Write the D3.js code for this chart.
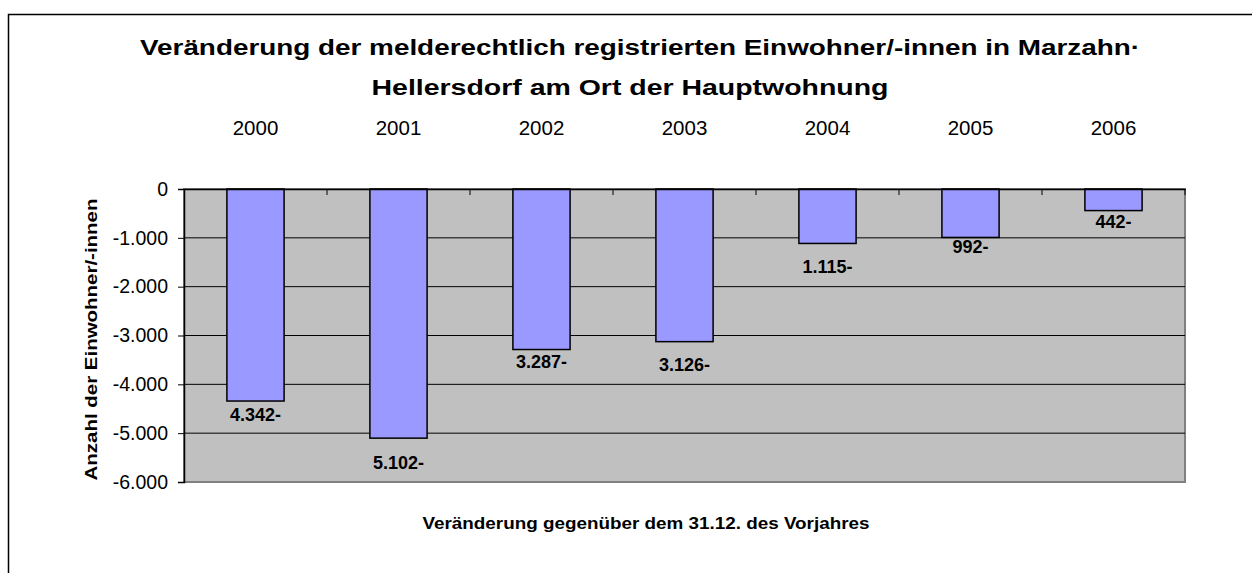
<!DOCTYPE html>
<html>
<head>
<meta charset="utf-8">
<script src="https://cdn.jsdelivr.net/npm/d3@7"></script>
<style>
    body { margin: 0; background: #fff; }
    text { font-family: "Liberation Sans", Arial, sans-serif; fill: #000; }
</style>
</head>
<body>
<div id="chart"></div>
<script>
var years = ["2000", "2001", "2002", "2003", "2004", "2005", "2006"];
var changes = [-4342, -5102, -3287, -3126, -1115, -992, -442];
var yTicks = [0, -1000, -2000, -3000, -4000, -5000, -6000];
var titleLines = ["Veränderung der melderechtlich registrierten Einwohner/-innen in Marzahn·",
    "Hellersdorf am Ort der Hauptwohnung"];
var yTitle = "Anzahl der Einwohner/-innen";
var xTitle = "Veränderung gegenüber dem 31.12. des Vorjahres";

var width = 1252;
var height = 573;
var plot = { left: 184, right: 1185, top: 189, bottom: 482 };
// label distance below bar end, as placed in the original
var labelDrop = [20, 31, 18, 29, 30, 16, 17];

var de = d3.formatLocale({ decimal: ",", thousands: ".", grouping: [3], currency: ["", "€"], minus: "-" });
var fmt = de.format(",d");

var svg = d3.select("#chart").append("svg")
    .attr("width", width)
    .attr("height", height);

/* chart frame, runs past the right and bottom edge */
svg.append("rect")
    .attr("x", 8.5).attr("y", 14.5)
    .attr("width", 1300).attr("height", 600)
    .attr("fill", "#fff")
    .attr("stroke", "#000")
    .attr("stroke-width", 1.5);

/* title */
svg.append("g").selectAll("text")
    .data(titleLines).enter()
    .append("text")
    .attr("x", (d, i) => i == 0 ? 640 : 630)
    .attr("y", (d, i) => 55 + i * 40)
    .attr("text-anchor", "middle")
    .attr("textLength", (d, i) => i == 0 ? 1000 : 517)
    .attr("lengthAdjust", "spacingAndGlyphs")
    .style("font-size", "22px")
    .style("font-weight", "bold")
    .text(d => d);

var xScale = d3.scaleBand()
    .domain(years)
    .range([plot.left, plot.right])
    .paddingInner(0);

var yScale = d3.scaleLinear()
    .domain([-6000, 0])
    .range([plot.bottom, plot.top]);

var barWidth = xScale.bandwidth() / 2.5;

/* plot background */
svg.append("rect")
    .attr("x", plot.left).attr("y", plot.top)
    .attr("width", plot.right - plot.left)
    .attr("height", plot.bottom - plot.top)
    .attr("fill", "#c0c0c0")
    .attr("stroke", "#808080")
    .attr("stroke-width", 2);

/* gridlines */
svg.append("g").selectAll("line")
    .data(yTicks.filter(d => d != 0 && d != -6000)).enter()
    .append("line")
    .attr("x1", plot.left).attr("x2", plot.right)
    .attr("y1", d => yScale(d)).attr("y2", d => yScale(d))
    .attr("stroke", "#000")
    .attr("stroke-width", 1);

/* y axis */
var yAxis = d3.axisLeft(yScale)
    .tickValues(yTicks)
    .tickSize(6)
    .tickPadding(10)
    .tickFormat(fmt);

svg.append("g")
    .attr("transform", `translate(${plot.left}, 0)`)
    .call(yAxis)
    .call(g => g.select(".domain").attr("stroke", "#000").attr("stroke-width", 1.5))
    .call(g => g.selectAll("text").style("font-size", "19.5px").attr("font-family", null));

/* bars */
svg.append("g").selectAll("rect")
    .data(changes).enter()
    .append("rect")
    .attr("x", (d, i) => xScale(years[i]) + xScale.bandwidth() / 2 - barWidth / 2)
    .attr("y", yScale(0))
    .attr("width", barWidth)
    .attr("height", d => yScale(d) - yScale(0))
    .attr("fill", "#9999ff")
    .attr("stroke", "#000")
    .attr("stroke-width", 1.5);

/* value labels */
svg.append("g").selectAll("text")
    .data(changes).enter()
    .append("text")
    .attr("x", (d, i) => xScale(years[i]) + xScale.bandwidth() / 2)
    .attr("y", (d, i) => yScale(d) + labelDrop[i])
    .attr("text-anchor", "middle")
    .style("font-size", "18px")
    .style("font-weight", "bold")
    .text(d => fmt(Math.abs(d)) + "-");

/* category axis along zero, labels on top */
var xAxis = d3.axisBottom(xScale).tickSize(0).tickFormat("");
svg.append("g")
    .attr("transform", `translate(0, ${yScale(0)})`)
    .call(xAxis)
    .call(g => g.select(".domain").attr("stroke", "#000").attr("stroke-width", 1.5));

svg.append("g").selectAll("line")
    .data(years.slice(1).concat(["end"])).enter()
    .append("line")
    .attr("x1", d => d == "end" ? plot.right : xScale(d))
    .attr("x2", d => d == "end" ? plot.right : xScale(d))
    .attr("y1", yScale(0)).attr("y2", yScale(0) + 6)
    .attr("stroke", "#000");

svg.append("g").selectAll("text")
    .data(years).enter()
    .append("text")
    .attr("x", d => xScale(d) + xScale.bandwidth() / 2)
    .attr("y", 135)
    .attr("text-anchor", "middle")
    .style("font-size", "20.5px")
    .text(d => d);

/* axis titles */
svg.append("text")
    .attr("transform", `translate(97, ${(plot.top + plot.bottom) / 2 + 4}) rotate(-90)`)
    .attr("text-anchor", "middle")
    .attr("textLength", 282)
    .attr("lengthAdjust", "spacingAndGlyphs")
    .style("font-size", "17px")
    .style("font-weight", "bold")
    .text(yTitle);

svg.append("text")
    .attr("x", 646)
    .attr("y", 529)
    .attr("text-anchor", "middle")
    .attr("textLength", 447)
    .attr("lengthAdjust", "spacingAndGlyphs")
    .style("font-size", "17px")
    .style("font-weight", "bold")
    .text(xTitle);
</script>
</body>
</html>
